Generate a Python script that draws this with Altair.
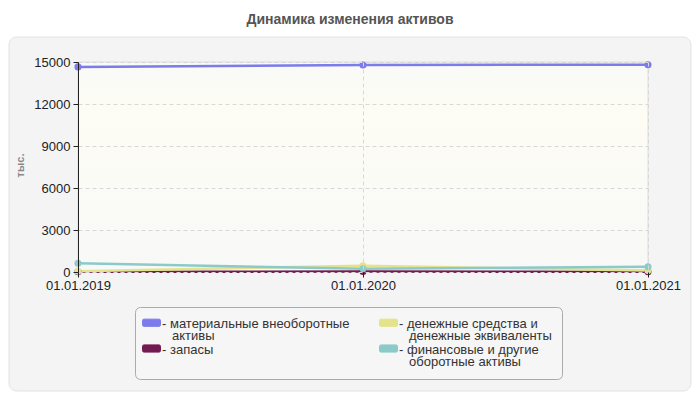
import altair as alt
import pandas as pd

dates = ["01.01.2019", "01.01.2020", "01.01.2021"]
series_names = [
    "материальные внеоборотные активы",
    "запасы",
    "денежные средства и денежные эквиваленты",
    "финансовые и другие оборотные активы",
]
material = [14650, 14790, 14800]
stocks = [20, 30, 20]
cash = [50, 450, 100]
financial = [630, 230, 370]
colors = ["#7b7bec", "#731a50", "#e3e38c", "#8ccaca"]

values_by_series = [material, stocks, cash, financial]
rows = []
for name, vals in zip(series_names, values_by_series):
    for d, v in zip(dates, vals):
        rows.append({"date": d, "series": name, "value": v})
df = pd.DataFrame(rows)

FONT = "Liberation Sans"
IND = "\u2800"

label_expr = (
    "datum.label == 'материальные внеоборотные активы' ? ['- материальные внеоборотные', '" + IND + "активы'] : "
    "datum.label == 'запасы' ? ['- запасы', ''] : "
    "datum.label == 'денежные средства и денежные эквиваленты' ? ['- денежные средства и', '" + IND + "денежные эквиваленты'] : "
    "['- финансовые и другие', '" + IND + "оборотные активы']"
)

# rounded swatch, drawn level with the first label line
rounded_rect = ("M-1.5,-0.92 L1.5,-0.92 Q1.8,-0.92 1.8,-0.62 L1.8,0.22 Q1.8,0.52 1.5,0.52 "
                "L-1.5,0.52 Q-1.8,0.52 -1.8,0.22 L-1.8,-0.62 Q-1.8,-0.92 -1.5,-0.92 Z")

one = pd.DataFrame({"a": [0]})

panel = alt.Chart(one).mark_rect(
    fill="#f4f4f4", stroke="#e2e2e2", strokeWidth=1, cornerRadius=8
).encode(
    x=alt.value(-69), x2=alt.value(613), y=alt.value(-25), y2=alt.value(329)
)

plot_bg = alt.Chart(one).mark_rect(
    fill={
        "gradient": "linear", "x1": 0, "y1": 0, "x2": 0, "y2": 1,
        "stops": [
            {"offset": 0, "color": "#f9f9f7"},
            {"offset": 0.25, "color": "#fdfdf4"},
            {"offset": 0.55, "color": "#fbfbf6"},
            {"offset": 1, "color": "#f8f8f8"},
        ],
    },
    stroke="#dddddd", strokeWidth=1,
).encode(
    x=alt.value(0), x2=alt.value(570), y=alt.value(0), y2=alt.value(210)
)

x_enc = alt.X(
    "date:O",
    sort=dates,
    scale=alt.Scale(type="point", padding=0),
    axis=alt.Axis(
        title=None, labelAngle=0, labelFontSize=13, labelColor="#222",
        labelFont=FONT, tickColor="#222", tickSize=5, labelPadding=2,
        domain=False, grid=True, gridColor="#d8d8d8", gridDash=[4, 3],
        zindex=1,
    ),
)
y_enc = alt.Y(
    "value:Q",
    scale=alt.Scale(domain=[0, 15000], nice=False),
    axis=alt.Axis(
        title="тыс.", titleFont=FONT, titleFontSize=11, titleFontWeight="bold",
        titleColor="#888", titleAngle=-90, titleX=-58, titleY=103,
        titleBaseline="middle", titleAlign="center",
        values=[0, 3000, 6000, 9000, 12000, 15000], format="d",
        labelFontSize=13, labelColor="#222", labelFont=FONT,
        tickColor="#222", tickSize=5, labelPadding=3,
        domainColor="#222", domainWidth=1,
        grid=True, gridColor="#d8d8d8", gridDash=[4, 3], zindex=1,
    ),
)
color_enc = alt.Color(
    "series:N",
    scale=alt.Scale(domain=series_names, range=colors),
    legend=alt.Legend(
        title=None, orient="none", legendX=57, legendY=245, columns=2,
        columnPadding=27, rowPadding=-5,
        symbolType=rounded_rect, symbolSize=100, symbolStrokeColor="#999",
        symbolStrokeWidth=1, symbolOpacity=1,
        labelFont=FONT, labelFontSize=13, labelColor="#333", labelLimit=400,
        labelOffset=4, labelExpr=label_expr, labelBaseline="middle",
        fillColor="#f6f6f6", strokeColor="#aaaaaa", cornerRadius=5,
        padding=10, zindex=1,
    ),
)

lines = alt.Chart(df).mark_line(strokeWidth=2.5).encode(
    x=x_enc, y=y_enc, color=color_enc,
    order=alt.Order("date:O"),
)
points = alt.Chart(df).mark_circle(size=50, opacity=1).encode(
    x=alt.X("date:O", sort=dates),
    y="value:Q",
    color=alt.Color("series:N", scale=alt.Scale(domain=series_names, range=colors), legend=None),
)

chart = alt.layer(panel, plot_bg, lines, points).properties(
    width=570, height=210,
    title=alt.TitleParams(
        "Динамика изменения активов", font=FONT, fontSize=14, fontWeight="bold",
        color="#555", anchor="middle", frame="group", offset=10, dx=-13,
    ),
    background="white",
    padding={"left": 70, "top": 54, "right": 44, "bottom": 120},
    autosize=alt.AutoSizeParams(type="none"),
).configure_view(stroke=None).configure(
    style={"guide-label": {"lineHeight": 12}}
)

chart.save("out.html", embed_options={"renderer": "svg", "actions": False})
